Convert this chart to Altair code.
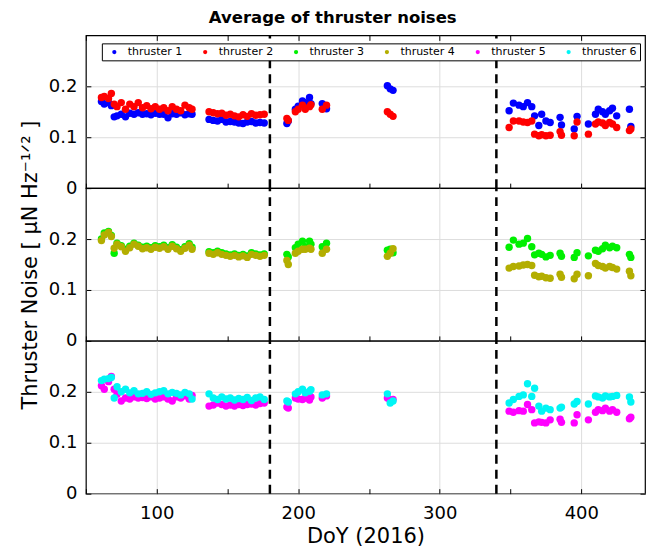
import altair as alt
import pandas as pd

# ---------------- data ----------------
DOY_A = [61, 63, 66, 68, 70, 72, 75, 78, 81, 84, 87, 90, 93, 96, 99, 102, 105, 108, 111, 114, 117, 120, 123, 125]
DOY_B = [137, 140, 143, 146, 149, 152, 155, 158, 161, 164, 167, 170, 173, 176]
DOY_C = [192, 193, 198, 200, 203, 205, 208, 209, 217, 220]
DOY_D = [263, 265, 267]
DOY_E = [349, 352, 356, 359, 362, 365, 367, 370, 372, 375, 378, 385, 386, 395, 397, 405, 410, 412, 415, 417, 420, 422, 425, 434, 435]
DOY = DOY_A + DOY_B + DOY_C + DOY_D + DOY_E

T1 = ([0.170, 0.165, 0.168, 0.162, 0.140, 0.142, 0.145, 0.140, 0.147, 0.145, 0.148, 0.145, 0.146, 0.144, 0.147, 0.145, 0.145, 0.138, 0.146, 0.145, 0.148, 0.144, 0.146, 0.145]
      + [0.135, 0.133, 0.132, 0.135, 0.130, 0.131, 0.130, 0.128, 0.127, 0.130, 0.131, 0.128, 0.129, 0.128]
      + [0.127, 0.132, 0.155, 0.161, 0.171, 0.168, 0.178, 0.166, 0.166, 0.156]
      + [0.201, 0.195, 0.192]
      + [0.152, 0.167, 0.163, 0.160, 0.168, 0.160, 0.142, 0.123, 0.145, 0.132, 0.129, 0.139, 0.124, 0.116, 0.141, 0.126, 0.145, 0.155, 0.150, 0.145, 0.152, 0.157, 0.142, 0.155, 0.121])
T2 = ([0.178, 0.180, 0.176, 0.186, 0.165, 0.160, 0.168, 0.155, 0.165, 0.160, 0.168, 0.158, 0.162, 0.156, 0.160, 0.155, 0.158, 0.152, 0.160, 0.155, 0.152, 0.163, 0.158, 0.155]
      + [0.150, 0.148, 0.146, 0.147, 0.143, 0.145, 0.142, 0.140, 0.144, 0.141, 0.146, 0.143, 0.144, 0.145]
      + [0.137, 0.133, 0.150, 0.155, 0.163, 0.155, 0.160, 0.164, 0.155, 0.163]
      + [0.150, 0.145, 0.141]
      + [0.119, 0.132, 0.132, 0.130, 0.129, 0.132, 0.106, 0.103, 0.105, 0.103, 0.104, 0.111, 0.104, 0.103, 0.130, 0.106, 0.126, 0.130, 0.128, 0.123, 0.129, 0.126, 0.119, 0.113, 0.116])
T3 = ([0.200, 0.212, 0.215, 0.207, 0.172, 0.192, 0.187, 0.180, 0.186, 0.192, 0.188, 0.184, 0.186, 0.183, 0.187, 0.185, 0.188, 0.183, 0.189, 0.184, 0.179, 0.185, 0.191, 0.184]
      + [0.175, 0.173, 0.176, 0.173, 0.171, 0.169, 0.171, 0.168, 0.170, 0.167, 0.173, 0.171, 0.169, 0.171]
      + [0.170, 0.165, 0.183, 0.190, 0.196, 0.185, 0.196, 0.190, 0.185, 0.192]
      + [0.178, 0.180, 0.173]
      + [0.184, 0.198, 0.190, 0.192, 0.201, 0.185, 0.169, 0.172, 0.170, 0.165, 0.168, 0.172, 0.166, 0.164, 0.173, 0.167, 0.178, 0.176, 0.181, 0.188, 0.183, 0.186, 0.183, 0.170, 0.164])
T4 = ([0.197, 0.208, 0.213, 0.205, 0.182, 0.190, 0.185, 0.176, 0.183, 0.190, 0.186, 0.181, 0.183, 0.180, 0.184, 0.182, 0.185, 0.180, 0.186, 0.181, 0.176, 0.182, 0.188, 0.180]
      + [0.172, 0.170, 0.173, 0.170, 0.168, 0.166, 0.168, 0.165, 0.167, 0.164, 0.170, 0.168, 0.166, 0.168]
      + [0.158, 0.150, 0.172, 0.176, 0.180, 0.180, 0.182, 0.180, 0.172, 0.180]
      + [0.166, 0.172, 0.181]
      + [0.143, 0.146, 0.147, 0.149, 0.150, 0.148, 0.129, 0.126, 0.127, 0.124, 0.123, 0.131, 0.125, 0.122, 0.131, 0.128, 0.152, 0.148, 0.146, 0.143, 0.146, 0.144, 0.141, 0.137, 0.128])
T5 = ([0.212, 0.205, 0.220, 0.230, 0.205, 0.195, 0.182, 0.188, 0.186, 0.190, 0.188, 0.189, 0.187, 0.190, 0.186, 0.188, 0.190, 0.186, 0.182, 0.190, 0.188, 0.192, 0.186, 0.193]
      + [0.172, 0.174, 0.178, 0.175, 0.172, 0.174, 0.172, 0.175, 0.173, 0.175, 0.176, 0.174, 0.177, 0.178]
      + [0.170, 0.168, 0.188, 0.186, 0.185, 0.188, 0.184, 0.190, 0.188, 0.192]
      + [0.188, 0.183, 0.185]
      + [0.162, 0.160, 0.163, 0.162, 0.175, 0.165, 0.139, 0.141, 0.140, 0.139, 0.145, 0.146, 0.140, 0.139, 0.155, 0.145, 0.160, 0.165, 0.163, 0.168, 0.162, 0.165, 0.160, 0.147, 0.150])
T6 = ([0.222, 0.225, 0.226, 0.228, 0.188, 0.210, 0.200, 0.205, 0.198, 0.202, 0.196, 0.197, 0.200, 0.195, 0.198, 0.200, 0.202, 0.196, 0.199, 0.197, 0.194, 0.199, 0.196, 0.186]
      + [0.196, 0.188, 0.185, 0.190, 0.186, 0.188, 0.184, 0.187, 0.185, 0.189, 0.183, 0.188, 0.190, 0.185]
      + [0.182, 0.180, 0.196, 0.200, 0.205, 0.198, 0.201, 0.204, 0.194, 0.196]
      + [0.196, 0.178, 0.182]
      + [0.178, 0.185, 0.191, 0.194, 0.216, 0.191, 0.207, 0.172, 0.162, 0.168, 0.165, 0.168, 0.170, 0.176, 0.181, 0.176, 0.192, 0.190, 0.188, 0.192, 0.190, 0.191, 0.193, 0.190, 0.180])

SERIES = [T1, T2, T3, T4, T5, T6]
NAMES = ["thruster 1", "thruster 2", "thruster 3", "thruster 4", "thruster 5", "thruster 6"]
COLORS = ["#0000ff", "#ff0000", "#00f000", "#b3ae00", "#ff00ff", "#00f5f5"]
EVENTS = [180, 340]
X_TICKS = [50, 100, 150, 200, 250, 300, 350, 400]
Y_TICKS = [0, 0.1, 0.2]

FONT = "DejaVu Sans"
W, H = 560, 153

xscale = alt.Scale(domain=[50, 445], nice=False, zero=False)
yscale = alt.Scale(domain=[0, 0.3], nice=False)
cscale = alt.Scale(domain=NAMES, range=COLORS)


def build_df(ids):
    rows = []
    for i in ids:
        for d, v in zip(DOY, SERIES[i]):
            rows.append({"doy": d, "noise": v, "thruster": NAMES[i]})
    return pd.DataFrame(rows)


def make_panel(ids, legend, bottom_labels, top_ticks, y_title):
    df = build_df(ids)
    xkw = dict(values=X_TICKS, grid=True,
               gridOpacity={"condition": {"test": "datum.value % 100 === 0", "value": 1}, "value": 0},
               gridColor="#dddddd", domain=False, tickSize={"expr": "-5"}, tickColor="black",
               labelExpr="datum.value % 100 === 0 ? datum.label : ''",
               labelFont=FONT, labelFontSize=18, labelColor="black", labelPadding=16,
               titleFont=FONT, titleFontSize=21, titleFontWeight="normal", titleColor="black",
               titlePadding=3, labels=bottom_labels)
    if bottom_labels:
        xkw["title"] = "DoY (2016)"
    else:
        xkw["title"] = None
        xkw["minExtent"] = 0
        xkw["maxExtent"] = 0
    xaxis = alt.Axis(**xkw)
    ykw = dict(values=Y_TICKS, grid=True, gridColor="#dddddd", domain=False,
               tickSize={"expr": "-5"}, tickColor="black",
               labelExpr="datum.value === 0 ? '0' : format(datum.value, '.1f')",
               labelFont=FONT, labelFontSize=18, labelColor="black", labelPadding=14,
               titleFont=FONT, titleFontSize=21, titleFontWeight="normal", titleColor="black",
               titlePadding=7, minExtent=38)
    ykw["title"] = y_title if y_title else None
    yaxis = alt.Axis(**ykw)

    if legend:
        leg = alt.Legend(title=None, orient="none", legendX=16, legendY=8, direction="horizontal",
                         strokeColor="black", fillColor="white", padding=3,
                         symbolType="circle", symbolSize=18, symbolStrokeWidth=0,
                         labelFont=FONT, labelFontSize=11, labelColor="black",
                         columnPadding=13, symbolOffset=4, labelOffset=8)
        color = alt.Color("thruster:N", scale=cscale, legend=leg)
    else:
        color = alt.Color("thruster:N", scale=cscale, legend=None)

    pts = alt.Chart(df).mark_circle(size=55, opacity=1).encode(
        x=alt.X("doy:Q", scale=xscale, axis=xaxis),
        y=alt.Y("noise:Q", scale=yscale, axis=yaxis),
        color=color,
        order=alt.Order("idx:Q"),
    ).transform_window(idx="row_number()")

    if top_ticks:
        top_axis = alt.Axis(orient="top", values=X_TICKS, labels=False, grid=False, domain=False,
                            tickSize={"expr": "-5"}, tickColor="black", title=None,
                            minExtent=0, maxExtent=0)
    else:
        top_axis = None
    right_axis = alt.Axis(orient="right", values=Y_TICKS, labels=False, grid=False, domain=False,
                          tickSize={"expr": "-5"}, tickColor="black", title=None,
                          minExtent=0, maxExtent=0)

    rules = alt.Chart(pd.DataFrame({"doy": EVENTS})).mark_rule(
        color="black", strokeDash=[9, 6], strokeWidth=2.5
    ).encode(
        x=alt.X("doy:Q", scale=xscale, axis=top_axis),
        y=alt.YDatum(0, scale=yscale, axis=right_axis),
        y2=alt.Y2Datum(0.3),
    )
    return alt.layer(pts, rules).resolve_axis(x="independent", y="independent").properties(width=W, height=H)


p1 = make_panel([0, 1], True, False, True, None)
p2 = make_panel([2, 3], False, False, False, "Thruster Noise [ μN Hz⁻¹ᐟ² ]")
p3 = make_panel([4, 5], False, True, False, None)

chart = alt.vconcat(p1, p2, p3, spacing=0, bounds="flush").resolve_scale(color="independent").properties(
    title=alt.TitleParams("Average of thruster noises", font=FONT, fontSize=16.5, fontWeight="bold",
                          color="black", anchor="middle", offset=7),
    padding={"left": 11, "top": 1, "right": 0, "bottom": 0},
    background="white",
).configure_view(stroke="black", strokeWidth=1.2)

chart.save("out.html", embed_options={"renderer": "svg", "actions": False})
